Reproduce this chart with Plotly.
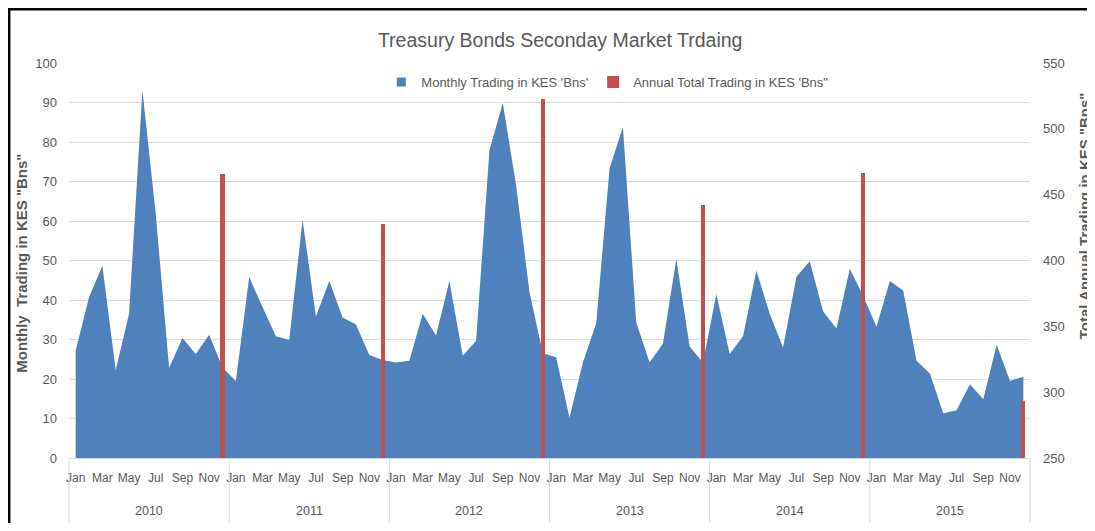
import plotly.graph_objects as go

years = ["2010", "2011", "2012", "2013", "2014", "2015"]
months = ["Jan", "Feb", "Mar", "Apr", "May", "Jun", "Jul", "Aug", "Sep", "Oct", "Nov", "Dec"]

monthly_2010 = [27.2, 40.7, 48.7, 22.3, 36.5, 93.1, 61.8, 22.8, 30.4, 26.3, 31.2, 22.9]
monthly_2011 = [19.5, 45.8, 38.2, 30.8, 29.9, 60.3, 35.8, 44.8, 35.6, 33.8, 26.1, 24.8]
monthly_2012 = [24.2, 24.6, 36.5, 31.0, 44.8, 25.9, 29.7, 77.9, 89.9, 69.0, 42.0, 26.5]
monthly_2013 = [25.5, 10.2, 24.2, 34.1, 73.3, 83.8, 34.3, 24.2, 29.0, 50.4, 28.2, 24.2]
monthly_2014 = [41.5, 26.3, 30.8, 47.5, 36.5, 28.0, 45.9, 49.8, 37.1, 32.8, 47.9, 41.0]
monthly_2015 = [33.2, 44.8, 42.4, 24.6, 21.4, 11.3, 12.1, 18.7, 14.9, 28.7, 19.5, 20.6]

annual_totals = [465.5, 427.4, 522.6, 441.9, 466.5, 293.4]

monthly = monthly_2010 + monthly_2011 + monthly_2012 + monthly_2013 + monthly_2014 + monthly_2015
n = len(monthly)
x_idx = list(range(n))
bar_x = [12 * (i + 1) - 1 for i in range(len(years))]

AREA_COLOR = "#4F81BD"
BAR_COLOR = "#C0504D"
TXT = "#595959"
FONT = "Liberation Sans, Arial, sans-serif"
AREA_NAME = "Monthly Trading in KES 'Bns'"
BAR_NAME = "Annual Total Trading in KES 'Bns\""

fig = go.Figure()
fig.add_trace(go.Scatter(
    x=x_idx, y=monthly, mode="lines", fill="tozeroy",
    line=dict(width=0, color=AREA_COLOR), fillcolor=AREA_COLOR,
    name=AREA_NAME, showlegend=False, legendgroup="m",
))
# legend entry with a square swatch (as in the original)
fig.add_trace(go.Scatter(
    x=[None], y=[None], mode="markers",
    marker=dict(symbol="square", size=9, color=AREA_COLOR),
    name=AREA_NAME, legendgroup="m",
))
fig.add_trace(go.Bar(
    x=bar_x, y=annual_totals, yaxis="y2", width=0.3,
    marker=dict(color=BAR_COLOR, line=dict(width=0)),
    name=BAR_NAME,
))

tickvals = [i for i in x_idx if i % 2 == 0]
ticktext = [months[i % 12] for i in tickvals]

shapes = []
for k in range(len(years) + 1):
    shapes.append(dict(type="line", xref="paper", yref="paper",
                       x0=k / len(years), x1=k / len(years), y0=0, y1=-0.163,
                       line=dict(color="#D9D9D9", width=1)))
# black page frame (partly outside the figure area)
shapes.append(dict(type="line", xref="paper", yref="paper",
                   x0=-0.0625, x1=-0.0625, y0=1.145, y1=-0.2,
                   line=dict(color="black", width=3)))
shapes.append(dict(type="line", xref="paper", yref="paper",
                   x0=-0.067, x1=1.08, y0=1.137, y1=1.137,
                   line=dict(color="black", width=3)))

annotations = []
for i, yr in enumerate(years):
    annotations.append(dict(text=yr, x=12 * i + 5.5, xref="x", y=-0.133, yref="paper",
                            showarrow=False, font=dict(size=12.5, color=TXT, family=FONT),
                            xanchor="center", yanchor="middle"))
annotations.append(dict(text='<b>Monthly&nbsp; Trading in KES "Bns"</b>', x=-0.049, xref="paper",
                        y=0.494, yref="paper", textangle=-90, showarrow=False,
                        font=dict(size=15, color=TXT, family=FONT),
                        xanchor="center", yanchor="middle"))
annotations.append(dict(text='<b>Total Annual Trading in KES "Bns"</b>', x=1.057, xref="paper",
                        y=0.614, yref="paper", textangle=-90, showarrow=False,
                        font=dict(size=15, color=TXT, family=FONT),
                        xanchor="center", yanchor="middle"))

fig.update_layout(
    width=1087, height=515,
    margin=dict(l=61, r=65, t=55, b=65, autoexpand=False),
    paper_bgcolor="white", plot_bgcolor="white",
    font=dict(family=FONT, color=TXT, size=13),
    title=dict(text="Treasury Bonds Seconday Market Trdaing", x=0.508, xanchor="center",
               y=1 - 32 / 515, yanchor="middle", font=dict(size=19.5, color=TXT, family=FONT)),
    showlegend=True,
    legend=dict(orientation="h", x=0.325, xanchor="left", y=0.99, yanchor="top",
                font=dict(size=13, color=TXT, family=FONT), bgcolor="rgba(0,0,0,0)",
                itemwidth=30, tracegroupgap=0, traceorder="normal"),
    xaxis=dict(range=[-0.5, n - 0.5], tickmode="array", tickvals=tickvals, ticktext=ticktext,
               showgrid=False, zeroline=False, showline=True, linecolor="#D9D9D9", linewidth=1,
               ticks="", tickangle=0, automargin=False, ticklabelstandoff=9,
               tickfont=dict(size=12, color=TXT, family=FONT)),
    yaxis=dict(range=[0, 100], dtick=10, showgrid=True, gridcolor="#D9D9D9", gridwidth=1,
               zeroline=False, showline=False, ticks="", ticklabelstandoff=11, automargin=False,
               tickfont=dict(size=13, color=TXT, family=FONT)),
    yaxis2=dict(range=[250, 550], dtick=50, overlaying="y", side="right", showgrid=False,
                zeroline=False, showline=False, ticks="", ticklabelstandoff=12, automargin=False,
                tickfont=dict(size=13, color=TXT, family=FONT)),
    shapes=shapes,
    annotations=annotations,
    bargap=0,
)

fig.write_html("out.html")
